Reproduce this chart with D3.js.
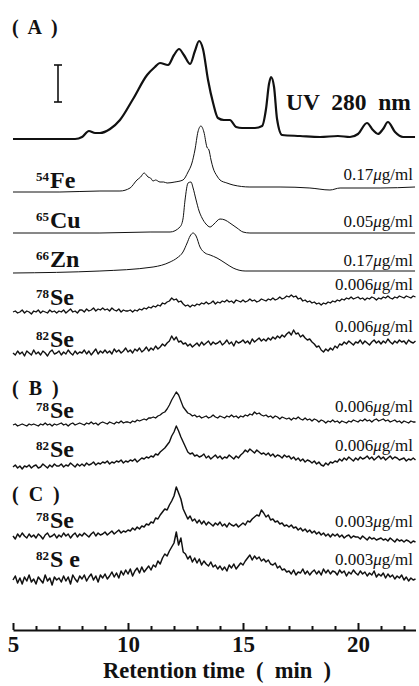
<!DOCTYPE html>
<html>
<head>
<meta charset="utf-8">
<script src="https://cdn.jsdelivr.net/npm/d3@7"></script>
<style>
  body { margin: 0; background: #fff; }
  svg { display: block; }
  svg text { font-family: "Liberation Serif", "Times New Roman", serif; fill: #111; }
</style>
</head>
<body>
<div id="chart"></div>
<script>
const width = 419;
const height = 686;

// retention time axis
const timeDomain = [5, 22.5];
const minorTicks = [5, 6, 7, 8, 9, 10, 11, 12, 13, 14, 15, 16, 17, 18, 19, 20, 21, 22];
const majorTicks = [5, 10, 15, 20];

// smooth traces: [time (min), signal]
const uvTrace = [[5.00,0],[7.70,0],[8.00,2],[8.30,8],[8.57,6],[8.78,6],[9.22,10],[9.65,19],[10.22,40],[10.83,64],[11.17,72],[11.39,76],[11.74,74],[12.00,84],[12.22,90],[12.43,84],[12.70,75],[12.91,88],[13.09,98],[13.26,90],[13.48,59],[13.70,36],[13.91,21],[14.17,19],[14.43,19],[14.70,12],[14.96,11],[15.52,11],[15.83,13],[16.00,30],[16.13,55],[16.22,62],[16.35,52],[16.48,20],[16.70,4],[17.48,3],[18.35,2],[19.13,3],[19.65,2],[20.00,5],[20.39,16],[20.65,9],[20.87,5],[21.09,10],[21.30,17],[21.61,7],[21.96,2],[22.48,2]];
const fe54Trace = [[5.00,0],[7.04,0],[8.78,1],[9.65,1],[10.09,4],[10.39,12],[10.55,15],[10.70,19],[10.80,17],[10.87,15],[10.98,14],[11.09,11],[11.20,12],[11.39,10],[11.55,10],[11.70,9],[12.04,10],[12.39,12],[12.61,20],[12.78,29],[12.91,42],[13.04,60],[13.17,66],[13.30,60],[13.43,45],[13.52,42],[13.61,32],[13.70,24],[13.87,16],[14.00,12],[14.30,9],[14.57,7],[15.30,5],[16.61,5],[17.91,4],[18.78,2],[19.22,4],[20.96,4],[22.48,5]];
const cu65Trace = [[5.00,0],[8.78,0],[10.96,1],[11.83,1],[12.26,6],[12.39,14],[12.48,33],[12.61,50],[12.74,51],[12.83,45],[12.96,33],[13.09,22],[13.22,15],[13.39,9],[13.57,6],[13.74,9],[14.00,14],[14.22,13],[14.43,10],[14.74,5],[15.00,1],[15.30,0],[22.48,0]];
const zn66Trace = [[5.00,0],[8.78,2],[11.09,6],[11.83,11],[12.13,15],[12.39,21],[12.57,30],[12.70,37],[12.83,40],[12.96,37],[13.13,26],[13.35,20],[13.57,18],[13.87,15],[14.22,10],[14.57,5],[15.09,2],[22.48,2]];

// noisy selenium traces, one value every 0.1 min from 5.0 min
const seStart = 5.0;
const seStep = 0.1;
const se78A = [0,1,-1,0,2,-1,1,0,-2,1, 0,2,-1,1,0,-1,2,0,1,-1, 1,0,2,-1,1,3,0,1,-1,2, 2,0,3,1,2,4,1,3,2,4,
  2,3,1,4,2,1,3,0,2,1, 1,2,0,2,1,3,2,4,3,5, 4,6,5,7,6,9,8,10,11,14, 12,13,10,11,8,6,7,5,7,6,
  8,7,9,8,10,8,9,11,8,10, 9,11,10,12,10,11,9,12,11,10, 12,10,11,13,11,12,10,11,13,12, 11,13,12,14,12,13,15,13,14,16,
  15,17,15,16,13,14,11,12,10,11, 9,10,8,9,7,9,8,10,9,11, 10,12,11,13,12,14,13,15,13,14, 15,13,14,12,14,13,15,14,12,14,
  13,15,14,16,14,13,15,14,16,15, 14,16,15,14,16,15];
const se82A = [0,-2,2,-1,1,-3,2,0,-2,3, -1,1,-2,2,0,-3,1,3,-1,0, 2,-2,1,-1,3,0,-2,2,-1,1, 0,3,-1,2,-2,1,4,-1,2,0,
  3,0,2,-1,4,1,3,0,2,5, 1,3,0,4,2,5,1,3,6,2, 5,3,7,4,6,9,7,10,12,17, 13,16,11,12,9,10,7,9,6,8,
  10,7,11,8,10,12,8,11,9,10, 12,8,10,13,9,11,7,12,10,11, 13,10,12,9,14,11,13,15,12,14, 12,15,13,16,14,17,15,18,16,19,
  21,18,23,19,20,16,18,15,13,14, 11,9,6,7,3,1,4,2,5,3, 7,5,9,8,11,9,12,10,8,11, 10,13,9,12,10,8,11,13,10,12,
  9,12,10,14,11,9,12,10,13,11, 12,9,13,11,10,12];
const se78B = [0,1,-1,0,1,0,-1,1,0,1, 0,-1,1,0,2,0,1,-1,1,0, 1,2,0,1,-1,1,2,0,1,2, 1,0,2,1,3,1,2,0,2,3,
  2,1,3,2,1,3,2,4,2,3, 3,2,4,3,5,4,5,6,5,7, 7,8,7,9,10,12,13,16,20,25, 29,33,30,24,18,15,12,11,9,10,
  8,9,7,8,9,7,8,10,8,7, 9,8,7,9,8,10,8,9,7,9, 8,10,9,11,10,13,11,12,10,9, 10,8,9,7,9,8,6,8,7,6,
  7,5,7,6,8,6,5,7,5,6, 4,6,5,3,5,4,2,4,3,5, 3,4,2,4,3,2,4,3,5,4, 3,5,4,6,4,5,3,5,6,4,
  5,6,4,5,3,4,5,3,4,2, 4,3,2,4,3,3];
const se82B = [0,2,-1,1,-2,1,0,2,-1,1, 2,-1,0,3,1,-1,2,0,3,1, 1,3,0,2,1,4,2,0,3,1, 3,1,4,2,3,5,2,4,3,5,
  4,6,3,5,4,6,5,7,4,6, 5,7,6,8,5,7,9,8,10,9, 11,10,13,12,15,17,19,22,25,31, 35,41,36,30,25,20,15,13,14,11,
  12,10,11,13,9,11,8,10,12,9, 11,8,10,9,12,10,8,11,9,12, 14,17,15,18,16,14,17,15,13,14, 12,14,11,13,10,12,11,9,12,10,
  11,8,10,7,9,6,8,5,7,6, 4,6,3,5,2,1,4,2,5,4, 6,5,8,6,9,7,10,8,6,9, 7,10,8,9,11,8,10,7,9,11,
  8,10,7,9,11,8,10,9,7,8, 9,6,8,7,9,7];
const se78C = [0,-3,2,-1,3,0,-2,2,-1,1, -2,2,0,-3,1,3,-1,0,2,-2, 1,-1,3,0,2,-2,1,3,-1,2, 0,3,1,-1,2,4,0,3,1,2,
  4,1,3,5,2,4,6,3,5,4, 6,5,8,6,9,7,10,9,12,11, 14,13,18,17,21,24,27,26,31,35, 40,49,43,37,27,22,17,20,15,17,
  13,16,12,15,11,14,12,10,13,11, 14,10,12,9,13,11,10,12,9,11, 13,11,15,14,17,19,21,20,26,23, 19,21,16,17,14,15,12,13,10,11,
  9,11,8,9,6,8,5,7,4,6, 3,5,2,4,1,3,0,2,-1,2, 0,2,-1,1,-2,0,1,-2,0,-1, -1,-3,0,-2,-4,-1,-3,-2,-4,-3,
  -2,-4,-3,-5,-2,-4,-6,-3,-5,-4, -6,-4,-5,-7,-5,-6];
const se82C = [0,4,-3,2,-4,3,-1,5,-2,1, -4,3,0,-3,5,-1,2,-5,3,0, 2,-2,4,-1,3,-4,5,1,-2,4, 1,5,-1,3,6,0,4,-2,5,2,
  6,1,4,8,3,7,2,9,5,10, 6,11,4,9,12,7,13,8,11,14, 10,15,13,19,16,22,26,24,29,33, 37,48,35,42,28,26,21,24,18,22,
  17,21,15,19,16,14,18,13,15,11, 14,10,13,9,15,12,16,11,14,17, 15,19,22,25,20,24,21,23,19,21, 18,20,16,15,17,12,14,10,11,8,
  9,6,10,5,8,7,11,6,9,5, 8,10,6,9,5,11,7,10,6,9, 8,5,10,7,9,4,8,6,10,7, 5,9,6,8,4,7,5,9,3,6,
  4,7,2,6,3,5,1,4,2,5, 0,3,-1,2,0,1];

// labels
const isotopeMasses = ['54', '65', '66', '78', '82', '78', '82', '78', '82'];
const isotopeElements = ['Fe', 'Cu', 'Zn', 'Se', 'Se', 'Se', 'Se', 'Se', 'S e'];
const concentrations = ['0.17', '0.05', '0.17', '0.006', '0.006', '0.006', '0.006', '0.003', '0.003'];
const panelNames = ['A', 'B', 'C'];

const seSeries = (values) => values.map((v, i) => [seStart + i * seStep, v]);

const svg = d3
  .select('#chart')
  .append('svg')
  .attr('width', width)
  .attr('height', height);

const xScale = d3.scaleLinear().domain(timeDomain).range([13, 415.5]);

// each trace sits on its own baseline, 1 signal unit = 1 px
const traceRows = [
  { data: uvTrace, base: 139, stroke: 2.2, curve: d3.curveMonotoneX },
  { data: fe54Trace, base: 192, stroke: 1, curve: d3.curveMonotoneX },
  { data: cu65Trace, base: 233, stroke: 1, curve: d3.curveMonotoneX },
  { data: zn66Trace, base: 273, stroke: 1, curve: d3.curveMonotoneX },
  { data: seSeries(se78A), base: 312, stroke: 1.3, curve: d3.curveLinear },
  { data: seSeries(se82A), base: 353, stroke: 1.4, curve: d3.curveLinear },
  { data: seSeries(se78B), base: 425, stroke: 1.3, curve: d3.curveLinear },
  { data: seSeries(se82B), base: 467, stroke: 1.4, curve: d3.curveLinear },
  { data: seSeries(se78C), base: 536, stroke: 1.5, curve: d3.curveLinear },
  { data: seSeries(se82C), base: 580, stroke: 1.5, curve: d3.curveLinear },
];

traceRows.forEach((row) => {
  const yScale = d3.scaleLinear().domain([0, 100]).range([row.base, row.base - 100]);
  const line = d3
    .line()
    .x((d) => xScale(d[0]))
    .y((d) => yScale(d[1]))
    .curve(row.curve);
  svg
    .append('path')
    .datum(row.data)
    .attr('fill', 'none')
    .attr('stroke', '#111')
    .attr('stroke-width', row.stroke)
    .attr('stroke-linejoin', 'round')
    .attr('d', line);
});

// scale bar next to UV trace
const bar = svg.append('g').attr('stroke', '#111').attr('stroke-width', 1.6);
bar.append('line').attr('x1', 58).attr('x2', 58).attr('y1', 65).attr('y2', 102);
bar.append('line').attr('x1', 54).attr('x2', 62).attr('y1', 65).attr('y2', 65);
bar.append('line').attr('x1', 54).attr('x2', 62).attr('y1', 102).attr('y2', 102);

svg
  .append('text')
  .attr('x', 286)
  .attr('y', 110)
  .attr('font-size', 23.5)
  .attr('font-weight', 'bold')
  .style('white-space', 'pre')
  .text('UV  280  nm');

// panel letters
const panelY = [34, 395, 501];
panelNames.forEach((p, i) => {
  svg
    .append('text')
    .attr('x', 12)
    .attr('y', panelY[i])
    .attr('font-size', 20)
    .attr('font-weight', 'bold')
    .style('white-space', 'pre')
    .text(`(  ${p}  )`);
});

// isotope names and concentrations
const labelBase = [188, 228, 267, 305, 347, 418, 457, 528, 567];
const concBase = [180, 227, 266, 290, 332, 412, 451, 527, 565];

isotopeMasses.forEach((m, i) => {
  svg
    .append('text')
    .attr('x', 49)
    .attr('y', labelBase[i] - 7)
    .attr('text-anchor', 'end')
    .attr('font-size', 13)
    .attr('font-weight', 'bold')
    .text(m);
  svg
    .append('text')
    .attr('x', 50)
    .attr('y', labelBase[i])
    .attr('font-size', 24)
    .attr('font-weight', 'bold')
    .style('white-space', 'pre')
    .text(isotopeElements[i]);

  const conc = svg
    .append('text')
    .attr('x', 413)
    .attr('y', concBase[i])
    .attr('text-anchor', 'end')
    .attr('font-size', 17);
  conc.append('tspan').text(concentrations[i]);
  conc.append('tspan').attr('font-style', 'italic').text('\u03bc');
  conc.append('tspan').text('g/ml');
});

// x axis, ticks pointing up
const xAxis = d3
  .axisBottom(xScale)
  .tickValues(minorTicks)
  .tickSizeInner(-4)
  .tickSizeOuter(0)
  .tickFormat((d) => (majorTicks.includes(d) ? d : ''));

const axisG = svg
  .append('g')
  .attr('transform', 'translate(0, 630)')
  .call(xAxis);

axisG.attr('font-family', null).attr('font-size', null);
axisG.select('.domain').attr('stroke', '#111').attr('stroke-width', 2.2);
axisG
  .selectAll('.tick line')
  .attr('stroke', '#111')
  .attr('stroke-width', 2)
  .attr('y2', (d) => (majorTicks.includes(d) ? -7 : -4));
axisG
  .selectAll('.tick text')
  .attr('y', 22)
  .attr('dy', 0)
  .attr('font-size', 23)
  .attr('font-weight', 'bold');

svg
  .append('text')
  .attr('x', 217)
  .attr('y', 678)
  .attr('text-anchor', 'middle')
  .attr('font-size', 22.5)
  .attr('font-weight', 'bold')
  .style('white-space', 'pre')
  .text('Retention time  (  min  )');
</script>
</body>
</html>
